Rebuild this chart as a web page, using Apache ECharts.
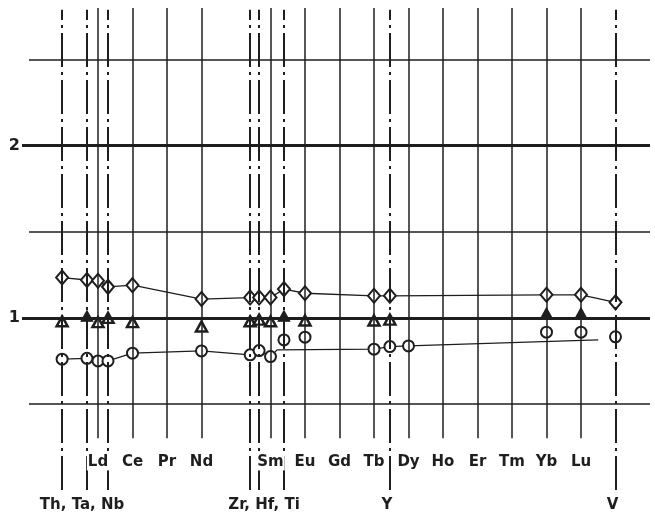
<!DOCTYPE html>
<html>
<head>
<meta charset="utf-8">
<script src="https://cdn.jsdelivr.net/npm/echarts@6/dist/echarts.min.js"></script>
<style>
html,body{margin:0;padding:0;background:#fff;}
#chart{width:655px;height:515px;}
</style>
</head>
<body>
<div id="chart"></div>
<script>
// ---- data ----
const elements = ['Th','Ta','La','Nb','Ce','Pr','Nd','Zr','Hf','Sm','Ti','Eu','Gd','Tb','Y','Dy','Ho','Er','Tm','Yb','Lu','V'];
const elementX = [55.96,56.68,57,57.29,58,59,60,61.41,61.67,62,62.39,63,64,65,65.46,66,67,68,69,70,71,72.0];
const reeKeys   = ['La','Ce','Pr','Nd','Sm','Eu','Gd','Tb','Dy','Ho','Er','Tm','Yb','Lu'];
const reeLabels = ['Ld','Ce','Pr','Nd','Sm','Eu','Gd','Tb','Dy','Ho','Er','Tm','Yb','Lu'];
const otherKeys = ['Th','Ta','Nb','Zr','Hf','Ti','Y','V'];
const groupLabels = ['Th, Ta, Nb','Zr, Hf, Ti','Y','V'];
const groupMembers = [['Th','Nb'],['Zr','Ti'],['Y','Y'],['V','V']];
const yTicks = [1, 2];
const yLinesThin = [0.5, 1.5, 2.5];
const yLinesThick = [1, 2];
//                 Th    Ta    La    Nb    Ce    Pr    Nd    Zr    Hf    Sm    Ti    Eu    Gd    Tb    Y     Dy    Ho    Er    Tm    Yb    Lu    V
const diamondVals = [1.234,1.22,1.215,1.18,1.19,null,1.109,1.118,1.118,1.118,1.167,1.143,null,1.128,1.128,null,null,null,null,1.134,1.134,1.09];
const triOpenVals = [0.98,null,0.975,1.0,0.975,null,0.95,0.98,0.99,0.98,null,0.985,null,0.985,0.99,null,null,null,null,null,null,null];
const triFilledVals=[null,1.01,null,null,null,null,null,null,null,null,1.01,null,null,null,null,null,null,null,null,1.027,1.027,null];
const circleVals  = [0.76,0.765,0.75,0.75,0.795,null,0.808,0.785,0.81,0.775,0.872,0.888,null,0.818,0.833,0.837,null,null,null,0.917,0.917,0.89];
// elements whose circles lie on the drawn lower line, plus extra points of that line
const lowerLineKeys = ['Th','Ta','La','Nb','Ce','Nd','Zr','Hf','Sm','Tb','Y','Dy'];
const lowerLineExtraX = [62.19, 71.5];
const lowerLineExtraY = [0.814, 0.872];

// ---- helpers ----
const ink = '#1e1e1e';
const FONT = 'DejaVu Sans';
const xOf = k => elementX[elements.indexOf(k)];
const pts = vals => elements.map((k,i)=> vals[i]==null ? null : [elementX[i], vals[i]]).filter(Boolean);

const lowerLine = lowerLineKeys.map(k => [xOf(k), circleVals[elements.indexOf(k)]])
  .concat(lowerLineExtraX.map((x,i)=>[x, lowerLineExtraY[i]]))
  .sort((a,b)=>a[0]-b[0]);

const vLines = [];
reeKeys.forEach(k => vLines.push([{coord:[xOf(k),0.30]},{coord:[xOf(k),2.8],lineStyle:{color:ink,width:1.5,type:'solid'}}]));
otherKeys.forEach(k => vLines.push([{coord:[xOf(k),0.0]},{coord:[xOf(k),2.79],lineStyle:{color:ink,width:2,type:[34,5,3,5]}}]));

const hLines = yLinesThin.map(v=>({yAxis:v, lineStyle:{color:ink,width:1.5,type:'solid'}}))
  .concat(yLinesThick.map(v=>({yAxis:v, lineStyle:{color:ink,width:3,type:'solid'}})));

const labelTop = reeKeys.map((k,i)=>({name:reeLabels[i], value:[xOf(k), 0.163]}));
const labelBottom = groupLabels.map((n,i)=>({name:n, value:[(xOf(groupMembers[i][0])+xOf(groupMembers[i][1]))/2, -0.087]}));

const markerStyle = {color:'#fff', borderColor:ink, borderWidth:2, opacity:1};
const labelBase = {show:true, position:'inside', formatter:'{b}', fontFamily:FONT, fontWeight:'bold', fontSize:15, color:ink,
  textBorderWidth:0, opacity:1, backgroundColor:'#fff', padding:[1,1]};

const chart = echarts.init(document.getElementById('chart'), null, {renderer:'canvas'});
chart.setOption({
  animation:false,
  backgroundColor:'#fff',
  grid:{left:29, right:5, top:8, bottom:25, containLabel:false},
  xAxis:{type:'value', min:55, max:73, show:true, axisLine:{show:false}, axisTick:{show:false}, axisLabel:{show:false}, splitLine:{show:false}},
  yAxis:{type:'value', min:0, max:2.8, axisLine:{show:false}, splitLine:{show:false},
    axisTick:{show:true, customValues:yTicks, length:7, lineStyle:{color:ink,width:3}},
    axisLabel:{show:true, customValues:yTicks, margin:9, fontFamily:FONT, fontWeight:'bold', fontSize:16, color:ink}},
  series:[
    {type:'line', data:[], z:1, silent:true,
      markLine:{silent:true, symbol:'none', label:{show:false}, animation:false, data:hLines}},
    {type:'line', data:pts(diamondVals), z:2, symbol:'none', silent:true, lineStyle:{color:ink,width:1.3}},
    {type:'line', data:lowerLine, z:2, symbol:'none', silent:true, lineStyle:{color:ink,width:1.3}},
    {type:'scatter', data:pts(diamondVals), z:3, symbol:'diamond', symbolSize:[12,14], itemStyle:markerStyle},
    {type:'scatter', data:pts(circleVals), z:3, symbol:'circle', symbolSize:11, itemStyle:markerStyle},
    {type:'scatter', data:pts(triOpenVals), z:3, symbol:'triangle', symbolSize:[11,10], itemStyle:{color:'#fff',borderColor:ink,borderWidth:2.5,opacity:1}},
    {type:'scatter', data:pts(triFilledVals), z:3, symbol:'triangle', symbolSize:[11,10], itemStyle:{color:ink,borderColor:ink,borderWidth:1.5,opacity:1}},
    {type:'line', data:[], z:4, silent:true,
      markLine:{silent:true, symbol:'none', label:{show:false}, animation:false, data:vLines}},
    {type:'scatter', data:labelTop, z:6, symbolSize:1, clip:false, silent:true,
      itemStyle:{color:'rgba(0,0,0,0)', opacity:1}, label:labelBase},
    {type:'scatter', data:labelBottom, z:6, symbolSize:1, clip:false, silent:true,
      itemStyle:{color:'rgba(0,0,0,0)', opacity:1}, label:Object.assign({}, labelBase, {offset:[-3,0]})}
  ]
});
</script>
</body>
</html>
